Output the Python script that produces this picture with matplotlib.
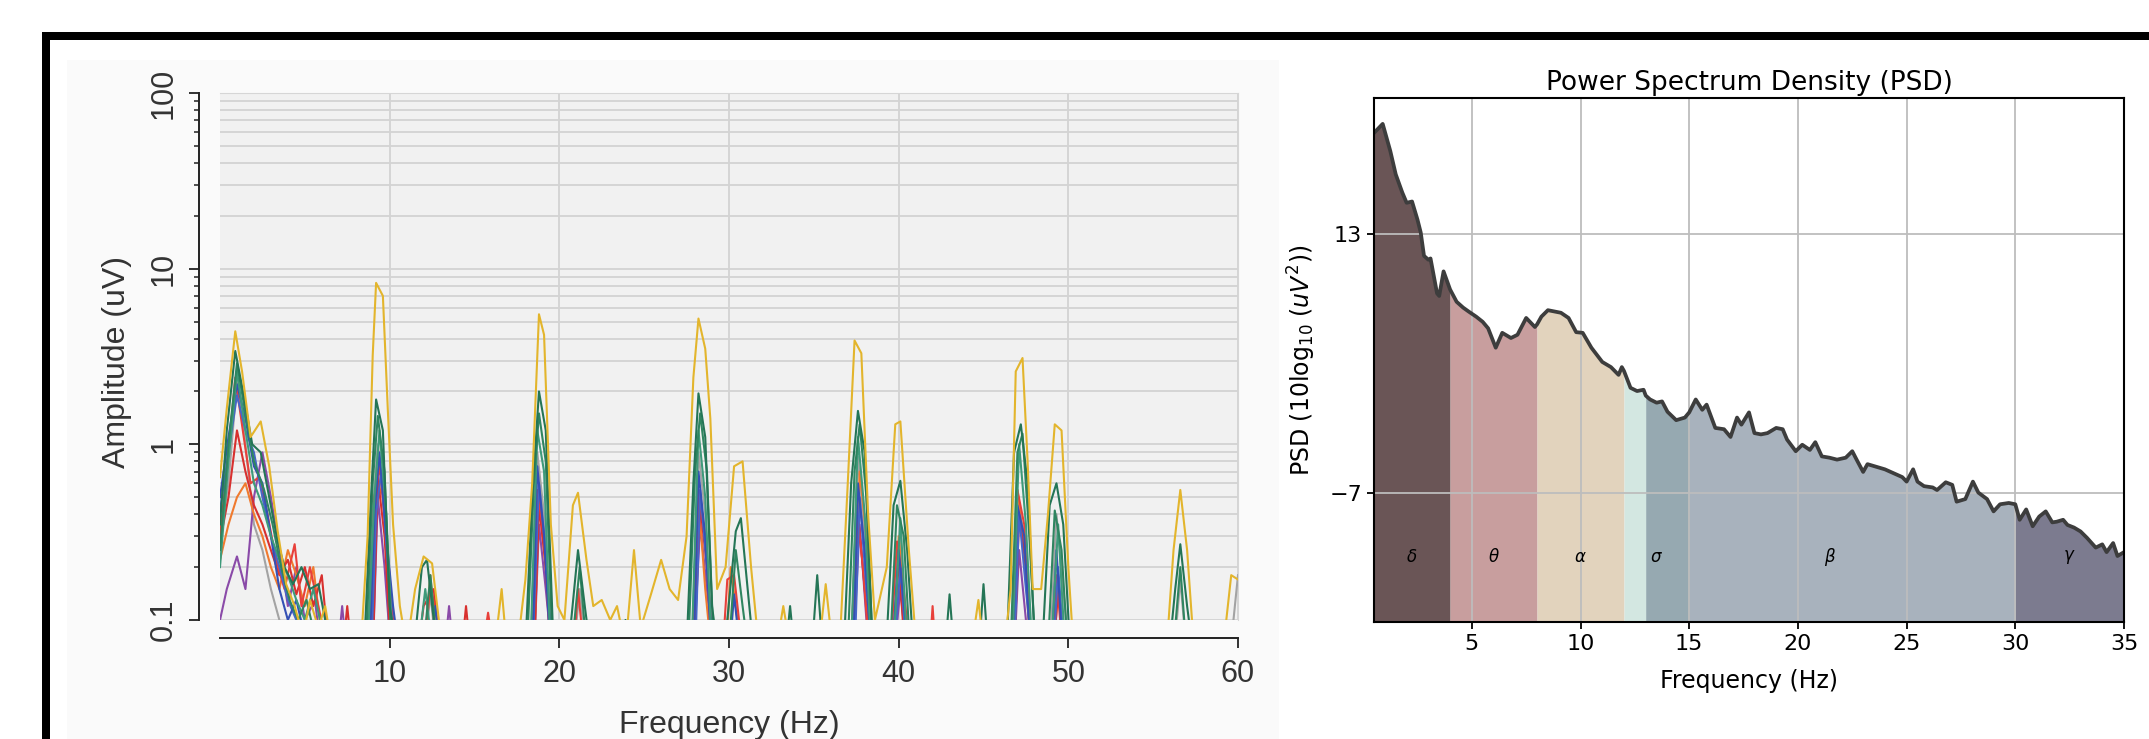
import matplotlib
matplotlib.use("Agg")
import matplotlib.pyplot as plt
from matplotlib.patches import Rectangle
from matplotlib.ticker import NullFormatter
import numpy as np

W, H = 2149, 739

# ---------------- left panel: amplitude spectra (one line per channel) ----------------
yellow = [(0.0, 0.65), (0.4, 1.6), (0.9, 4.4), (1.3, 2.6), (1.8, 1.1), (2.4, 1.35), (2.9, 0.75), (3.4, 0.32),
          (3.9, 0.16), (4.4, 0.12), (4.9, 0.08), (5.3, 0.13), (5.8, 0.09), (6.2, 0.12), (6.6, 0.07), (8.3, 0.07),
          (8.7, 0.3), (9.0, 3.2), (9.2, 8.3), (9.6, 7.0), (9.9, 1.5), (10.2, 0.35), (10.6, 0.12), (11.0, 0.07),
          (11.5, 0.15), (12.0, 0.23), (12.5, 0.21), (12.9, 0.1), (13.3, 0.07), (16.2, 0.07), (16.6, 0.15),
          (16.9, 0.07), (17.6, 0.08), (18.0, 0.17), (18.4, 0.6), (18.8, 5.5), (19.1, 4.2), (19.5, 0.35),
          (19.9, 0.12), (20.3, 0.1), (20.8, 0.45), (21.1, 0.53), (21.6, 0.22), (22.0, 0.12), (22.5, 0.13),
          (23.0, 0.1), (23.4, 0.12), (23.9, 0.07), (24.4, 0.25), (24.8, 0.09), (25.4, 0.14), (26.0, 0.22),
          (26.5, 0.15), (27.0, 0.13), (27.5, 0.3), (27.9, 2.4), (28.2, 5.2), (28.6, 3.5), (28.9, 1.4),
          (29.3, 0.15), (29.8, 0.2), (30.3, 0.75), (30.8, 0.8), (31.3, 0.2), (31.7, 0.08), (32.8, 0.07),
          (33.2, 0.12), (33.6, 0.07), (35.3, 0.07), (35.7, 0.16), (36.1, 0.07), (36.6, 0.1), (37.0, 0.6),
          (37.4, 3.9), (37.8, 3.3), (38.2, 0.4), (38.6, 0.1), (39.3, 0.2), (39.8, 1.3), (40.1, 1.35),
          (40.6, 0.25), (41.0, 0.08), (44.3, 0.07), (44.7, 0.13), (45.0, 0.07), (46.3, 0.08), (46.6, 0.15),
          (46.9, 2.6), (47.3, 3.1), (47.6, 0.8), (47.9, 0.15), (48.4, 0.15), (48.8, 0.4), (49.2, 1.3),
          (49.6, 1.2), (50.0, 0.2), (50.3, 0.07), (55.8, 0.07), (56.2, 0.25), (56.6, 0.55), (57.0, 0.25),
          (57.4, 0.07), (59.2, 0.08), (59.6, 0.18), (60.0, 0.17)]
green1 = [(0.0, 0.35), (0.4, 1.2), (0.9, 3.4), (1.4, 1.9), (1.9, 1.0), (2.4, 0.9), (2.9, 0.5), (3.4, 0.28),
          (3.8, 0.2), (4.3, 0.16), (4.8, 0.2), (5.3, 0.15), (5.8, 0.16), (6.2, 0.1), (6.6, 0.07), (8.5, 0.07),
          (8.9, 0.5), (9.2, 1.8), (9.6, 1.2), (10.0, 0.12), (10.4, 0.07), (11.5, 0.08), (11.9, 0.2),
          (12.2, 0.22), (12.6, 0.1), (13.0, 0.06), (18.0, 0.07), (18.4, 0.5), (18.8, 2.0), (19.2, 1.2),
          (19.6, 0.1), (20.0, 0.06), (20.7, 0.1), (21.1, 0.25), (21.5, 0.12), (21.9, 0.06), (23.6, 0.06),
          (23.9, 0.1), (24.2, 0.06), (27.5, 0.07), (27.9, 0.6), (28.2, 1.95), (28.6, 1.1), (29.0, 0.12),
          (29.4, 0.06), (29.9, 0.1), (30.4, 0.32), (30.7, 0.38), (31.1, 0.15), (31.5, 0.06), (33.3, 0.06),
          (33.6, 0.12), (33.9, 0.06), (34.9, 0.07), (35.2, 0.18), (35.5, 0.07), (36.8, 0.08), (37.2, 0.6),
          (37.6, 1.55), (38.0, 0.9), (38.4, 0.1), (38.8, 0.06), (39.3, 0.08), (39.7, 0.45), (40.1, 0.62),
          (40.5, 0.25), (40.9, 0.06), (42.7, 0.06), (43.0, 0.14), (43.3, 0.06), (44.7, 0.06), (45.0, 0.16),
          (45.3, 0.06), (46.4, 0.08), (46.8, 0.9), (47.2, 1.3), (47.6, 0.6), (48.0, 0.08), (48.5, 0.08),
          (48.9, 0.45), (49.3, 0.6), (49.7, 0.35), (50.1, 0.07), (55.9, 0.06), (56.3, 0.15), (56.6, 0.27),
          (57.0, 0.12), (57.4, 0.06)]
green2 = [(0.0, 0.25), (0.5, 1.0), (1.0, 2.9), (1.5, 1.5), (2.0, 0.8), (2.6, 0.55), (3.1, 0.35), (3.6, 0.2),
          (4.1, 0.13), (4.6, 0.1), (5.1, 0.13), (5.6, 0.08), (8.6, 0.07), (9.0, 0.6), (9.3, 1.45), (9.7, 0.7),
          (10.1, 0.07), (12.0, 0.07), (12.4, 0.18), (12.8, 0.07), (18.1, 0.07), (18.5, 0.6), (18.8, 1.5),
          (19.2, 0.8), (19.6, 0.07), (20.8, 0.08), (21.2, 0.2), (21.6, 0.07), (27.6, 0.07), (28.0, 0.7),
          (28.3, 1.5), (28.7, 0.7), (29.1, 0.07), (30.0, 0.07), (30.4, 0.25), (30.8, 0.12), (31.2, 0.06),
          (37.0, 0.07), (37.4, 0.7), (37.7, 1.3), (38.1, 0.5), (38.5, 0.06), (39.5, 0.07), (39.9, 0.45),
          (40.3, 0.3), (40.7, 0.06), (46.6, 0.07), (47.0, 0.9), (47.3, 1.15), (47.7, 0.3), (48.1, 0.06),
          (48.8, 0.07), (49.2, 0.42), (49.6, 0.25), (50.0, 0.06), (56.2, 0.07), (56.6, 0.2), (57.0, 0.06)]
green3 = [(0.0, 0.2), (0.5, 0.8), (1.0, 2.6), (1.5, 1.2), (2.0, 0.6), (2.5, 0.45), (3.0, 0.3), (3.5, 0.22),
          (4.0, 0.18), (4.5, 0.13), (5.0, 0.1), (5.5, 0.15), (6.0, 0.09), (6.4, 0.06), (8.7, 0.07), (9.1, 0.5),
          (9.4, 1.2), (9.8, 0.4), (10.2, 0.06), (11.7, 0.07), (12.1, 0.15), (12.5, 0.07), (18.3, 0.07),
          (18.7, 1.2), (19.1, 0.7), (19.5, 0.06), (27.8, 0.07), (28.2, 1.2), (28.6, 0.5), (29.0, 0.06),
          (37.2, 0.07), (37.6, 1.1), (38.0, 0.4), (38.4, 0.06), (39.7, 0.07), (40.1, 0.38), (40.5, 0.07),
          (46.7, 0.07), (47.1, 1.0), (47.5, 0.35), (47.9, 0.06), (49.0, 0.07), (49.4, 0.35), (49.8, 0.07)]
gray = [(0.0, 0.3), (0.5, 0.6), (1.0, 2.3), (1.5, 1.0), (2.0, 0.35), (2.5, 0.25), (3.0, 0.15), (3.5, 0.1),
        (4.0, 0.06), (8.7, 0.06), (9.0, 0.4), (9.3, 1.0), (9.7, 0.5), (10.0, 0.06), (12.0, 0.06), (12.4, 0.14),
        (12.8, 0.06), (18.3, 0.06), (18.7, 0.9), (19.1, 0.4), (19.5, 0.06), (20.8, 0.06), (21.2, 0.15),
        (21.6, 0.06), (27.8, 0.06), (28.2, 0.9), (28.6, 0.4), (29.0, 0.06), (37.2, 0.06), (37.6, 0.85),
        (38.0, 0.3), (38.4, 0.06), (39.7, 0.06), (40.1, 0.3), (40.5, 0.06), (46.6, 0.06), (47.0, 0.5),
        (47.4, 0.3), (47.8, 0.06), (48.9, 0.06), (49.3, 0.4), (49.7, 0.15), (50.1, 0.06), (56.2, 0.06),
        (56.6, 0.17), (57.0, 0.06), (59.5, 0.06), (60.0, 0.18)]
blue1 = [(0.0, 0.5), (0.5, 1.1), (1.0, 2.2), (1.5, 1.4), (2.0, 0.75), (2.5, 0.6), (3.0, 0.3), (3.5, 0.15),
         (4.0, 0.1), (4.5, 0.13), (5.0, 0.08), (8.8, 0.06), (9.1, 0.4), (9.4, 0.9), (9.8, 0.3), (10.2, 0.12),
         (10.6, 0.06), (12.3, 0.06), (12.7, 0.12), (13.0, 0.06), (18.4, 0.06), (18.7, 0.75), (19.1, 0.3),
         (19.5, 0.06), (27.9, 0.06), (28.2, 0.7), (28.6, 0.3), (29.0, 0.06), (30.0, 0.06), (30.3, 0.14),
         (30.7, 0.06), (37.3, 0.06), (37.6, 0.6), (38.0, 0.25), (38.4, 0.06), (39.6, 0.06), (40.0, 0.25),
         (40.4, 0.1), (40.8, 0.06), (46.7, 0.06), (47.0, 0.45), (47.4, 0.3), (47.8, 0.06), (49.0, 0.06),
         (49.3, 0.25), (49.7, 0.06)]
blue2 = [(0.0, 0.42), (0.5, 0.9), (1.0, 1.9), (1.5, 1.2), (2.0, 0.9), (2.5, 0.5), (3.0, 0.3), (3.5, 0.2),
         (4.0, 0.13), (4.5, 0.1), (4.8, 0.06), (8.9, 0.06), (9.2, 0.4), (9.5, 0.7), (9.9, 0.2), (10.3, 0.06),
         (18.4, 0.06), (18.8, 0.6), (19.2, 0.25), (19.6, 0.06), (28.0, 0.06), (28.3, 0.55), (28.7, 0.2),
         (29.1, 0.06), (37.4, 0.06), (37.7, 0.5), (38.1, 0.15), (38.5, 0.06), (39.7, 0.06), (40.1, 0.2),
         (40.5, 0.06), (46.8, 0.06), (47.1, 0.4), (47.5, 0.15), (47.9, 0.06), (49.1, 0.06), (49.4, 0.2),
         (49.8, 0.06)]
red1 = [(0.0, 0.3), (0.5, 0.9), (0.9, 2.4), (1.4, 1.1), (1.8, 0.6), (2.3, 0.65), (2.8, 0.4), (3.3, 0.22),
        (3.8, 0.15), (4.4, 0.27), (4.8, 0.12), (5.3, 0.2), (5.8, 0.12), (6.3, 0.07), (8.8, 0.06), (9.1, 0.5),
        (9.4, 0.75), (9.8, 0.3), (10.2, 0.1), (10.6, 0.06), (12.0, 0.06), (12.4, 0.16), (12.8, 0.1),
        (13.2, 0.06), (15.4, 0.06), (15.8, 0.11), (16.2, 0.06), (18.4, 0.06), (18.7, 0.55), (19.1, 0.3),
        (19.5, 0.06), (20.8, 0.06), (21.1, 0.15), (21.5, 0.06), (27.8, 0.06), (28.2, 0.55), (28.6, 0.3),
        (29.0, 0.06), (29.6, 0.06), (29.9, 0.17), (30.3, 0.18), (30.7, 0.08), (31.0, 0.06), (37.2, 0.06),
        (37.5, 0.45), (37.9, 0.2), (38.3, 0.06), (39.5, 0.06), (39.9, 0.28), (40.3, 0.15), (40.7, 0.06),
        (41.8, 0.06), (42.0, 0.12), (42.2, 0.06), (46.6, 0.06), (47.0, 0.55), (47.4, 0.35), (47.8, 0.06),
        (49.0, 0.06), (49.3, 0.18), (49.7, 0.06)]
red2 = [(0.0, 0.28), (0.5, 0.5), (1.0, 1.2), (1.5, 0.7), (2.0, 0.45), (2.5, 0.35), (3.0, 0.25), (3.5, 0.18),
        (4.0, 0.22), (4.5, 0.14), (5.0, 0.2), (5.5, 0.12), (6.0, 0.18), (6.4, 0.07), (7.2, 0.06), (7.5, 0.12),
        (7.8, 0.06), (9.0, 0.06), (9.3, 0.65), (9.7, 0.3), (10.1, 0.06), (11.6, 0.06), (12.0, 0.12),
        (12.6, 0.15), (13.0, 0.06), (14.2, 0.06), (14.5, 0.12), (14.8, 0.06), (18.5, 0.06), (18.8, 0.45),
        (19.2, 0.2), (19.6, 0.06), (27.9, 0.06), (28.3, 0.45), (28.7, 0.2), (29.1, 0.06), (37.3, 0.06),
        (37.6, 0.4), (38.0, 0.15), (38.4, 0.06), (39.6, 0.06), (40.0, 0.22), (40.4, 0.06), (46.8, 0.06),
        (47.1, 0.4), (47.5, 0.2), (47.9, 0.06), (49.1, 0.06), (49.4, 0.15), (49.8, 0.06)]
purple = [(0.0, 0.1), (0.4, 0.15), (1.0, 0.23), (1.5, 0.15), (2.0, 0.5), (2.5, 0.9), (3.0, 0.5), (3.5, 0.25),
          (4.0, 0.12), (4.5, 0.2), (5.0, 0.1), (5.6, 0.13), (6.0, 0.06), (6.9, 0.06), (7.2, 0.12), (7.5, 0.06),
          (9.0, 0.06), (9.3, 0.5), (9.7, 0.2), (10.1, 0.06), (13.2, 0.06), (13.5, 0.12), (13.8, 0.06),
          (18.5, 0.06), (18.8, 0.35), (19.2, 0.15), (19.6, 0.06), (27.9, 0.06), (28.3, 0.35), (28.7, 0.15),
          (29.1, 0.06), (37.3, 0.06), (37.7, 0.35), (38.1, 0.1), (38.5, 0.06), (39.7, 0.06), (40.1, 0.15),
          (40.5, 0.06), (46.8, 0.06), (47.1, 0.25), (47.5, 0.1), (47.9, 0.06)]
orange = [(0.0, 0.22), (0.5, 0.35), (1.0, 0.5), (1.5, 0.6), (2.0, 0.4), (2.5, 0.3), (3.0, 0.2), (3.5, 0.15),
          (4.0, 0.25), (4.5, 0.18), (5.0, 0.12), (5.5, 0.2), (6.0, 0.08), (8.9, 0.06), (9.2, 0.45), (9.6, 0.6),
          (10.0, 0.15), (10.4, 0.06), (12.0, 0.06), (12.4, 0.18), (12.8, 0.06), (18.5, 0.06), (18.8, 0.5),
          (19.2, 0.2), (19.6, 0.06), (27.9, 0.06), (28.2, 0.5), (28.6, 0.15), (29.0, 0.06), (29.8, 0.06),
          (30.1, 0.2), (30.5, 0.1), (30.9, 0.06), (37.3, 0.06), (37.7, 0.7), (38.1, 0.3), (38.5, 0.06),
          (39.7, 0.06), (40.0, 0.3), (40.4, 0.1), (40.8, 0.06), (46.7, 0.06), (47.0, 0.55), (47.4, 0.25),
          (47.8, 0.06), (49.1, 0.06), (49.4, 0.15), (49.8, 0.06)]

channels = [(gray, "#a3a3a3"), (purple, "#8a4aa8"), (orange, "#f07a2e"), (red2, "#d8302e"),
            (red1, "#e8403a"), (blue2, "#4666c8"), (blue1, "#3450b4"), (green3, "#3e9a7a"),
            (green2, "#2f8560"), (green1, "#247556"), (yellow, "#e3b52c")]
amp_ticks = [0.1, 1, 10, 100]
amp_tick_labels = ["0.1", "1", "10", "100"]
amp_freq_ticks = [10, 20, 30, 40, 50, 60]

# ---------------- right panel: PSD with frequency bands ----------------
psd_freq = [0.5, 0.9, 1.25, 1.5, 1.8, 2.0, 2.25, 2.5, 2.65, 2.8, 3.0, 3.1, 3.4, 3.5, 3.7, 4.0, 4.3, 4.6, 4.85,
            5.2, 5.5, 5.75, 6.1, 6.4, 6.8, 7.1, 7.5, 7.9, 8.0, 8.2, 8.5, 8.8, 9.1, 9.45, 9.8, 10.1, 10.5, 11.0,
            11.4, 11.75, 11.9, 12.0, 12.3, 12.6, 12.9, 13.0, 13.2, 13.5, 13.75, 14.0, 14.4, 14.8, 15.0, 15.3,
            15.6, 15.8, 16.2, 16.6, 16.9, 17.2, 17.4, 17.75, 18.0, 18.3, 18.6, 19.0, 19.3, 19.5, 19.9, 20.2,
            20.55, 20.8, 21.1, 21.45, 21.8, 22.2, 22.5, 22.7, 23.0, 23.2, 23.6, 24.0, 24.4, 24.8, 25.0, 25.3,
            25.5, 25.8, 26.2, 26.4, 26.8, 27.1, 27.3, 27.7, 28.05, 28.3, 28.7, 29.0, 29.3, 29.7, 30.0, 30.2,
            30.5, 30.8, 31.1, 31.4, 31.7, 31.9, 32.2, 32.4, 32.7, 33.0, 33.3, 33.7, 34.0, 34.2, 34.5, 34.7, 35.0]
psd_db = [20.8, 21.5, 19.4, 17.6, 16.2, 15.4, 15.5, 14.1, 13.1, 11.3, 11.0, 11.1, 8.4, 8.2, 10.1, 8.7, 7.75,
          7.3, 7.0, 6.6, 6.2, 5.7, 4.2, 5.35, 4.95, 5.2, 6.5, 5.8, 6.0, 6.6, 7.1, 7.0, 6.9, 6.5, 5.4, 5.35, 4.2,
          3.1, 2.7, 2.1, 2.7, 2.4, 1.1, 0.85, 0.95, 0.5, 0.2, -0.05, 0.05, -0.75, -1.4, -1.2, -0.8, 0.2, -0.6,
          -0.2, -2.0, -2.1, -2.7, -1.2, -1.75, -0.8, -2.4, -2.5, -2.4, -2.0, -2.1, -2.9, -3.8, -3.3, -3.7,
          -3.1, -4.2, -4.3, -4.45, -4.3, -3.8, -4.45, -5.4, -4.8, -5.0, -5.2, -5.5, -5.8, -6.15, -5.2, -6.15,
          -6.5, -6.6, -6.8, -6.2, -6.4, -7.7, -7.5, -6.15, -7.0, -7.5, -8.45, -7.9, -7.8, -7.9, -9.1, -8.3,
          -9.6, -8.85, -8.45, -9.3, -9.25, -9.1, -9.5, -9.7, -10.0, -10.5, -11.25, -11.0, -11.6, -10.9,
          -11.9, -11.6]
band_lo = [0.5, 4, 8, 12, 13, 30]
band_hi = [4, 8, 12, 15, 30, 35]
band_names = [r"$\delta$", r"$\theta$", r"$\alpha$", r"$\sigma$", r"$\beta$", r"$\gamma$"]
band_colors = ["#6a5556", "#c89e9e", "#e2d3bd", "#d3e7e1", "#6e8091", "#7c7b8f"]
band_alpha = [1, 1, 1, 1, 0.6, 1]
psd_xticks = [5, 10, 15, 20, 25, 30, 35]
psd_yticks = [13, -7]


def box(x0, y0, x1, y1):
    return [x0 / W, 1 - y1 / H, (x1 - x0) / W, (y1 - y0) / H]


fig = plt.figure(figsize=(W / 100, H / 100), dpi=100)
fig.patch.set_facecolor("white")

# screenshot background and black frame
fig.add_artist(Rectangle((67 / W, 0), (1279 - 67) / W, 1 - 60 / H, transform=fig.transFigure,
                         facecolor="#fafafa", edgecolor="none", zorder=-5))
fig.add_artist(Rectangle((42 / W, 1 - 40 / H), 1, 8 / H, transform=fig.transFigure,
                         facecolor="black", edgecolor="none", zorder=5))
fig.add_artist(Rectangle((42 / W, 0), 8 / W, 1 - 32 / H, transform=fig.transFigure,
                         facecolor="black", edgecolor="none", zorder=5))

# ---- left
LF = "Liberation Sans"
axL = fig.add_axes(box(220, 93, 1238, 620))
axL.set_facecolor("#f1f1f1")
for data, col in channels:
    f = [p[0] for p in data]
    a = [p[1] for p in data]
    axL.plot(f, a, color=col, lw=1.5)
axL.set_yscale("log")
axL.set_xlim(0, 60)
axL.set_ylim(0.1, 100)
axL.set_yticks(amp_ticks, amp_tick_labels)
axL.yaxis.set_minor_formatter(NullFormatter())
axL.set_xticks(amp_freq_ticks)
axL.set_axisbelow(True)
axL.grid(True, which="both", axis="y", color="#d3d3d3", lw=1.3)
axL.grid(True, which="major", axis="x", color="#d3d3d3", lw=1.3)
axL.spines["left"].set_position(("outward", 15))
axL.spines["bottom"].set_position(("outward", 13))
for s in ["left", "bottom"]:
    axL.spines[s].set_color("#222222")
    axL.spines[s].set_linewidth(1.4)
for s in ["top", "right"]:
    axL.spines[s].set_color("#d6d6d6")
axL.tick_params(axis="both", which="major", length=7, width=1.3, labelsize=22,
                colors="#222222", labelcolor="#333333", pad=8)
axL.tick_params(axis="y", which="minor", length=3.5, width=1.1, colors="#222222")
axL.tick_params(axis="y", which="major", labelrotation=90)
for lbl in axL.get_xticklabels() + axL.get_yticklabels():
    lbl.set_fontfamily(LF)
for lbl in axL.get_yticklabels():
    lbl.set_va("center")
fig.text(117 / W, 1 - 362 / H, "Amplitude (uV)", rotation=90, ha="center", va="center",
         fontsize=23, family=LF, color="#333333")
fig.text(729 / W, 1 - 725 / H, "Frequency (Hz)", ha="center", va="center",
         fontsize=23, family=LF, color="#333333")

# ---- right
axR = fig.add_axes(box(1374, 98, 2124, 622))
fr = np.array(psd_freq)
db = np.array(psd_db)
ybot = -17
for lo, hi, name, col, al in zip(band_lo, band_hi, band_names, band_colors, band_alpha):
    m = (fr >= lo) & (fr <= hi)
    axR.fill_between(fr[m], db[m], ybot, color=col, alpha=al, lw=0)
    axR.text((lo + hi) / 2, -12, name, ha="center", va="center", fontsize=12)
axR.plot(fr, db, color="#3d3d3d", lw=2.7)
axR.set_xlim(0.5, 35)
axR.set_ylim(ybot, 23.5)
axR.set_xticks(psd_xticks)
axR.set_yticks(psd_yticks)
axR.grid(True, color="#bdbdbd", lw=1.3)
for s in axR.spines.values():
    s.set_linewidth(1.5)
axR.tick_params(labelsize=16, length=5, width=1.3)
axR.set_title("Power Spectrum Density (PSD)", fontsize=19, pad=6)
fig.text(1302 / W, 1 - 360 / H, r"PSD (10log$_{10}$ ($uV^2$))", rotation=90, ha="center", va="center",
         fontsize=17)
fig.text(1749 / W, 1 - 681 / H, "Frequency (Hz)", ha="center", va="center", fontsize=17)

fig.savefig("out.png", dpi=100, facecolor="white")
